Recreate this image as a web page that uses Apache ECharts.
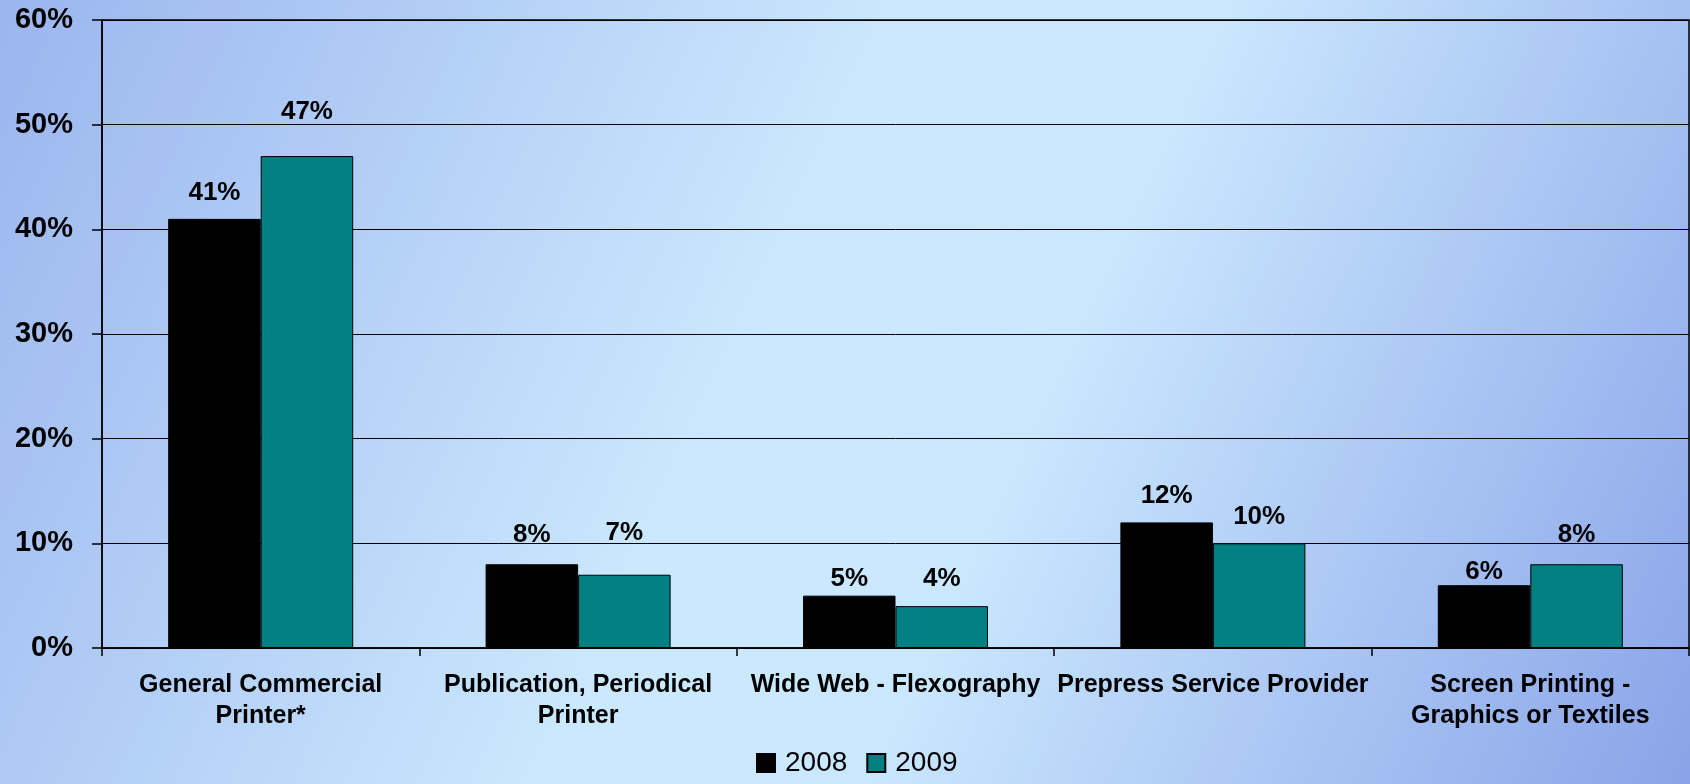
<!DOCTYPE html>
<html>
<head>
<meta charset="utf-8">
<title>Printer segments 2008 vs 2009</title>
<script src="https://cdn.jsdelivr.net/npm/echarts@6/dist/echarts.min.js"></script>
<style>
  html, body { margin: 0; padding: 0; }
  #chart { width: 1690px; height: 784px; }
</style>
</head>
<body>
<div id="chart"></div>
<script>
// Chart data
const categories = [
  'General Commercial\nPrinter*',
  'Publication, Periodical\nPrinter',
  'Wide Web - Flexography',
  'Prepress Service Provider',
  'Screen Printing -\nGraphics or Textiles'
];
const seriesNames = ['2008', '2009'];
const values2008 = [41, 8, 5, 12, 6];
const values2009 = [47, 7, 4, 10, 8];
const yTicks = [0, 10, 20, 30, 40, 50, 60];

// Gap (px) between each bar top and its value label
const labelGap2008 = [13, 16, 4, 14, 0];
const labelGap2009 = [31, 29, 14, 14, 16];

const FONT = "'Liberation Sans', Arial, Helvetica, sans-serif";

function barData(values, gaps) {
  return values.map((v, i) => ({ value: v, label: { distance: gaps[i] } }));
}

const chart = echarts.init(document.getElementById('chart'), null, { renderer: 'canvas' });

chart.setOption({
  animation: false,
  backgroundColor: new echarts.graphic.LinearGradient(0, 0, 1, 1, [
    { offset: 0, color: '#9bb5ee' },
    { offset: 0.45, color: '#cbe9fe' },
    { offset: 0.6, color: '#c9e7fe' },
    { offset: 1, color: '#8aa3e8' }
  ]),
  textStyle: { fontFamily: FONT },
  grid: {
    left: 102,
    right: 1,
    top: 20,
    bottom: 136,
    show: true,
    borderColor: '#000',
    borderWidth: 1.5,
    backgroundColor: 'transparent'
  },
  legend: {
    data: seriesNames,
    left: 756,
    top: 749,
    padding: 0,
    itemWidth: 18,
    itemHeight: 18,
    itemGap: 19,
    icon: 'rect',
    textStyle: {
      fontFamily: FONT,
      fontSize: 28,
      color: '#000',
      padding: [0, 0, 0, 5]
    }
  },
  xAxis: {
    type: 'category',
    data: categories,
    axisLine: { lineStyle: { color: '#000', width: 1.5 } },
    axisTick: { show: true, length: 8, lineStyle: { color: '#000', width: 1.5 } },
    axisLabel: {
      interval: 0,
      margin: 21,
      fontFamily: FONT,
      fontSize: 25,
      fontWeight: 'bold',
      lineHeight: 31.5,
      color: '#000'
    },
    splitLine: { show: false }
  },
  yAxis: {
    type: 'value',
    min: yTicks[0],
    max: yTicks[yTicks.length - 1],
    interval: 10,
    axisLine: { show: true, lineStyle: { color: '#000', width: 1.5 } },
    axisTick: { show: true, length: 10, lineStyle: { color: '#000', width: 1.5 } },
    axisLabel: {
      margin: 29,
      fontFamily: FONT,
      fontSize: 29,
      fontWeight: 'bold',
      color: '#000',
      formatter: '{value}%'
    },
    splitLine: { show: true, lineStyle: { color: '#000', width: 1 } }
  },
  series: [
    {
      name: seriesNames[0],
      type: 'bar',
      data: barData(values2008, labelGap2008),
      barWidth: 92.5,
      barGap: '0%',
      itemStyle: { color: '#000000', borderColor: '#000', borderWidth: 1 },
      label: {
        show: true,
        position: 'top',
        formatter: '{c}%',
        fontFamily: FONT,
        fontSize: 26,
        fontWeight: 'bold',
        lineHeight: 26,
        color: '#000'
      }
    },
    {
      name: seriesNames[1],
      type: 'bar',
      data: barData(values2009, labelGap2009),
      barWidth: 92.5,
      barGap: '0%',
      itemStyle: { color: '#008080', borderColor: '#000', borderWidth: 1 },
      label: {
        show: true,
        position: 'top',
        formatter: '{c}%',
        fontFamily: FONT,
        fontSize: 26,
        fontWeight: 'bold',
        lineHeight: 26,
        color: '#000'
      }
    }
  ]
});
</script>
</body>
</html>
